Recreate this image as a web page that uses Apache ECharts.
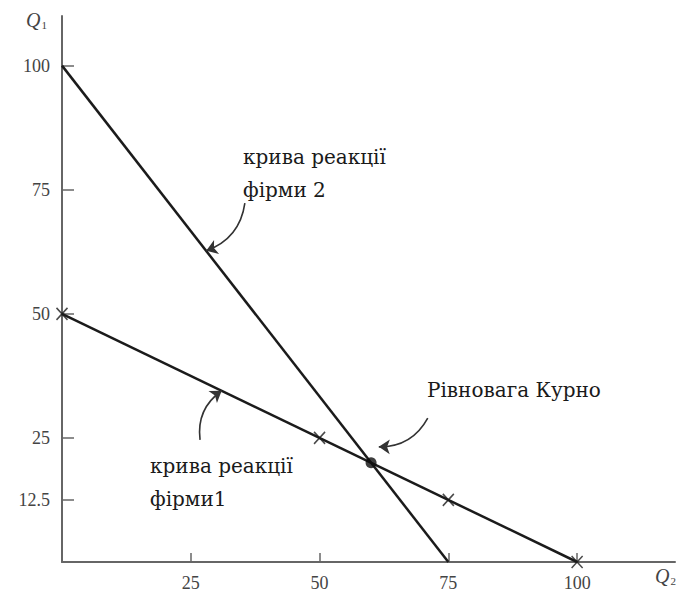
<!DOCTYPE html>
<html>
<head>
<meta charset="utf-8">
<script src="https://cdn.jsdelivr.net/npm/echarts@6/dist/echarts.min.js"></script>
<style>
  html, body { margin: 0; padding: 0; background: #fff; }
  #chart { width: 678px; height: 602px; }
</style>
</head>
<body>
<div id="chart"></div>
<script>
// Cournot duopoly: reaction curves of two firms (Q2 on x, Q1 on y)
const q2Ticks = [25, 50, 75, 100];
const q1Ticks = [12.5, 25, 50, 75, 100];

// reaction curve of firm 2: Q1 = 100 at Q2 = 0, Q1 = 0 at Q2 = 75
const firm2Curve = [[0, 100], [75, 0]];
// reaction curve of firm 1: Q1 = 50 at Q2 = 0, Q1 = 0 at Q2 = 100
const firm1Curve = [[0, 50], [100, 0]];
// crosses marked along firm 1's curve
const firm1Marks = [[0, 50], [50, 25], [75, 12.5], [100, 0]];
// Cournot equilibrium
const cournotPoint = [[60, 20]];

// pointer arrows from the captions to the curves [from, to] in (Q2, Q1)
const arrowFirm2 = [[35.5, 72.3], [28, 62.7]];
const arrowFirm1 = [[26.8, 24.6], [31, 34.5]];
const arrowCournot = [[71, 29], [61.5, 23.2]];

const serif = 'Liberation Serif';
const captionFont = 'DejaVu Serif';
const ink = '#1b1b1b';
const axisGray = '#666';

function caption(text, left, top) {
  return {
    type: 'text',
    left: left, top: top,
    style: {
      text: text.split('\n').map(function (s) { return '{c|' + s + '}'; }).join('\n'),
      rich: {
        c: { fontFamily: captionFont, fontSize: 20, lineHeight: 33, fill: '#1a1a1a', color: '#1a1a1a' }
      }
    }
  };
}

function axisName(sub, left, top) {
  return {
    type: 'text',
    left: left, top: top,
    style: {
      text: '{q|Q}{s|' + sub + '}',
      rich: {
        q: { fontFamily: serif, fontStyle: 'italic', fontSize: 20, fill: '#444' },
        s: { fontFamily: serif, fontSize: 11, fill: '#444', verticalAlign: 'bottom', padding: [8, 0, 0, 1] }
      }
    }
  };
}

const chart = echarts.init(document.getElementById('chart'), null, { renderer: 'svg' });

chart.setOption({
  animation: false,
  backgroundColor: '#fff',
  grid: { left: 62, top: 16, width: 613, height: 546 },
  xAxis: {
    type: 'value',
    min: 0,
    max: 119,
    splitLine: { show: false },
    axisLine: { lineStyle: { color: axisGray, width: 2 } },
    axisTick: { inside: true, length: 9, customValues: q2Ticks, lineStyle: { color: axisGray, width: 1.5 } },
    axisLabel: {
      customValues: q2Ticks,
      margin: 12,
      fontFamily: serif,
      fontSize: 18,
      color: '#444'
    }
  },
  yAxis: {
    type: 'value',
    min: 0,
    max: 110,
    splitLine: { show: false },
    axisLine: { lineStyle: { color: axisGray, width: 2 } },
    axisTick: { inside: true, length: 12, customValues: q1Ticks, lineStyle: { color: axisGray, width: 1.5 } },
    axisLabel: {
      customValues: q1Ticks,
      margin: 12,
      fontFamily: serif,
      fontSize: 18,
      color: '#444'
    }
  },
  series: [
    {
      name: 'firm2',
      type: 'line',
      data: firm2Curve,
      symbol: 'none',
      lineStyle: { color: ink, width: 2.5 }
    },
    {
      name: 'firm1',
      type: 'line',
      data: firm1Curve,
      symbol: 'none',
      lineStyle: { color: ink, width: 2.5 }
    },
    {
      name: 'firm1Marks',
      type: 'scatter',
      data: firm1Marks,
      symbol: 'path://M0 0L10 12M10 0L0 12',
      symbolSize: [11, 12],
      itemStyle: { color: 'rgba(0,0,0,0)', borderColor: ink, borderWidth: 1.6 }
    },
    {
      name: 'cournot',
      type: 'scatter',
      data: cournotPoint,
      symbol: 'circle',
      symbolSize: 11,
      itemStyle: { color: '#0d0d0d' },
      z: 5
    },
    {
      name: 'pointers',
      type: 'lines',
      coordinateSystem: 'cartesian2d',
      symbol: ['none', 'arrow'],
      symbolSize: [0, 11],
      lineStyle: { color: '#333', width: 1.6, curveness: 0.3, opacity: 1 },
      data: [
        { coords: arrowFirm2 },
        { coords: arrowFirm1 },
        { coords: arrowCournot }
      ],
      z: 4
    }
  ],
  graphic: [
    axisName('1', 26, 10),
    axisName('2', 655, 566),
    caption('крива реакції\nфірми 2', 243, 147),
    caption('крива реакції\nфірми1', 150, 456),
    caption('Рівновага Курно', 427, 380)
  ]
});
</script>
</body>
</html>
